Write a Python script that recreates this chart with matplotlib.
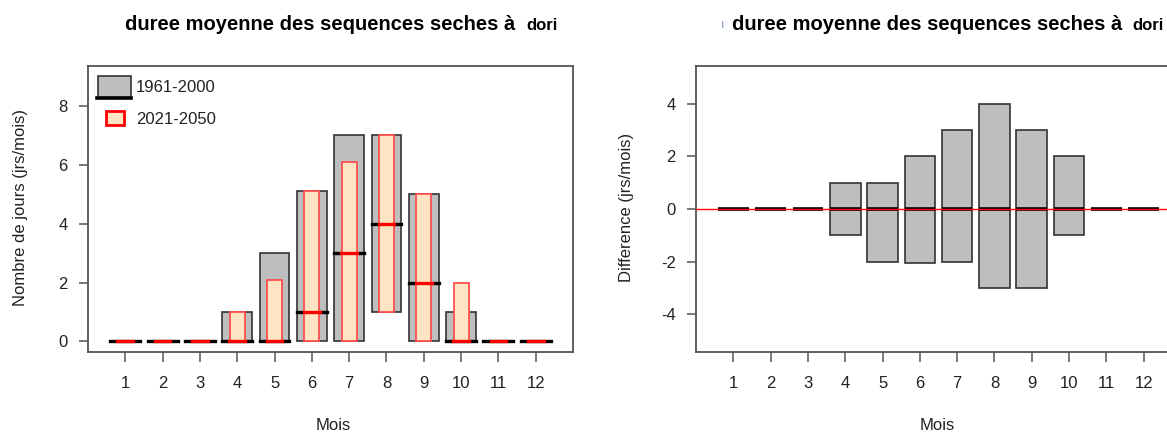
import matplotlib
matplotlib.use("Agg")
import matplotlib.pyplot as plt
from matplotlib.patches import Rectangle
from matplotlib.lines import Line2D
import numpy as np

plt.rcParams['font.family'] = ['Liberation Sans', 'DejaVu Sans']

months = np.arange(1, 13)
month_labels = [str(m) for m in months]

# 1961-2000 : min, max, median
ref_min = [0, 0, 0, 0, 0, 0, 0, 1, 0, 0, 0, 0]
ref_max = [0, 0, 0, 1, 3, 5.1, 7, 7, 5, 1, 0, 0]
ref_med = [0, 0, 0, 0, 0, 1, 3, 4, 2, 0, 0, 0]

# 2021-2050 : min, max, median
fut_min = [0, 0, 0, 0, 0, 0, 0, 1, 0, 0, 0, 0]
fut_max = [0, 0, 0, 1, 2.1, 5.1, 6.1, 7, 5, 2, 0, 0]
fut_med = [0, 0, 0, 0, 0, 1, 3, 4, 2, 0, 0, 0]

# Difference : low, high, median
diff_low = [0, 0, 0, -1, -2, -2.05, -2, -3, -3, -1, 0, 0]
diff_high = [0, 0, 0, 1, 1, 2, 3, 4, 3, 2, 0, 0]
diff_med = [0, 0, 0, 0, 0, 0, 0, 0, 0, 0, 0, 0]

title_main = "duree moyenne des sequences seches à"
title_station = "dori"
legend_labels = ["1961-2000", "2021-2050"]

W, H = 1167, 432
fig = plt.figure(figsize=(W / 100, H / 100), dpi=100)

def fx(x): return x / W
def fy(y): return 1 - y / H

GRAY = '#BEBEBE'
EDGE = '#333333'
BISQUE = '#FFE4C4'
TXT = '#222222'
SPINE = '#555555'

def style_axes(ax, yticks):
    for s in ax.spines.values():
        s.set_color(SPINE)
        s.set_linewidth(1.3)
    ax.set_xticks(months)
    ax.set_xticklabels(month_labels)
    ax.set_yticks(yticks)
    ax.set_yticklabels([str(v) for v in yticks])
    ax.tick_params(axis='x', direction='out', length=7, width=1.1, color=SPINE,
                   pad=10.5, labelsize=12, labelcolor=TXT)
    ax.tick_params(axis='y', direction='out', length=6.5, width=1.1, color=SPINE,
                   pad=8, labelsize=12, labelcolor=TXT)

# ---------------- left panel ----------------
ax1 = fig.add_axes([fx(88), fy(352), fx(573) - fx(88), fy(66) - fy(352)])
ax1.set_xlim(0, 13)
ax1.set_ylim(-0.36, 9.36)
ref_min_a = np.array(ref_min); ref_max_a = np.array(ref_max)
fut_min_a = np.array(fut_min); fut_max_a = np.array(fut_max)
ax1.bar(months, ref_max_a - ref_min_a, bottom=ref_min_a, width=0.8,
        color=GRAY, edgecolor=EDGE, linewidth=1.2, zorder=2)
ax1.hlines(ref_med, months - 0.4, months + 0.4, color='black', lw=2.4, zorder=3,
           capstyle='projecting')
ax1.bar(months, fut_max_a - fut_min_a, bottom=fut_min_a, width=0.4,
        color=BISQUE, edgecolor='#FF5050', linewidth=1.3, zorder=4)
ax1.hlines(fut_med, months - 0.21, months + 0.21, color='red', lw=2.4, zorder=5,
           capstyle='projecting')
style_axes(ax1, [0, 2, 4, 6, 8])

# legend (manual, as in the original)
fig.patches.append(Rectangle((fx(97.5), fy(98)), fx(130.5) - fx(97.5), fy(76) - fy(98),
                             transform=fig.transFigure, facecolor=GRAY,
                             edgecolor=EDGE, linewidth=1.2, zorder=10))
fig.lines.append(Line2D([fx(97), fx(131)], [fy(98), fy(98)], transform=fig.transFigure,
                        color='black', lw=2.6, zorder=11))
fig.patches.append(Rectangle((fx(106), fy(125)), fx(124) - fx(106), fy(111) - fy(125),
                             transform=fig.transFigure, facecolor=BISQUE,
                             edgecolor='red', linewidth=2, zorder=10))
fig.text(fx(136), fy(88), legend_labels[0], fontsize=12, color=TXT, va='center', ha='left')
fig.text(fx(136), fy(119), legend_labels[1], fontsize=12, color=TXT, va='center', ha='left')

fig.text(fx(21), fy(208), "Nombre de jours (jrs/mois)", rotation=90, fontsize=12,
         color=TXT, ha='center', va='center')
fig.text(fx(333), fy(425), "Mois", fontsize=12, color=TXT, ha='center', va='center')

# ---------------- right panel ----------------
ax2 = fig.add_axes([fx(696), fy(352), fx(1181) - fx(696), fy(66) - fy(352)])
ax2.set_xlim(0, 13)
ax2.set_ylim(-5.43, 5.43)
dl = np.array(diff_low); dh = np.array(diff_high)
ax2.bar(months, dh - dl, bottom=dl, width=0.82, color=GRAY, edgecolor=EDGE,
        linewidth=1.2, zorder=2)
ax2.hlines(diff_med, months - 0.41, months + 0.41, color='black', lw=2.6, zorder=3)
ax2.axhline(0, color='red', lw=1.0, zorder=4)
style_axes(ax2, [-4, -2, 0, 2, 4])

fig.text(fx(627), fy(207), "Difference (jrs/mois)", rotation=90, fontsize=12,
         color=TXT, ha='center', va='center')
fig.text(fx(937), fy(425), "Mois", fontsize=12, color=TXT, ha='center', va='center')

# ---------------- titles ----------------
fig.text(fx(125), fy(25), title_main, fontsize=14.5, fontweight='bold', ha='left',
         va='center', color='black')
fig.text(fx(526), fy(25), title_station, fontsize=12, fontweight='bold', ha='left',
         va='center', color='black')
fig.text(fx(723), fy(25), "ı", fontsize=9, ha='center', va='center', color='#7f9cc6')
fig.text(fx(731.5), fy(25), title_main, fontsize=14.5, fontweight='bold', ha='left',
         va='center', color='black')
fig.text(fx(1132), fy(25), title_station, fontsize=12, fontweight='bold', ha='left',
         va='center', color='black')

fig.savefig("out.png", dpi=100)
